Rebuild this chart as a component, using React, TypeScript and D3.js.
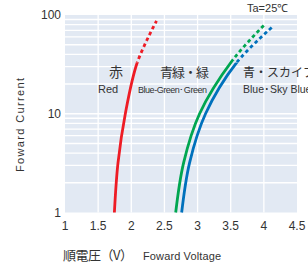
import * as React from "react";
import * as d3 from "d3";

// forward voltage (V) vs forward current (mA)
const redV = [1.745, 1.8, 1.91, 2.09, 2.38];
const redI = [1, 3.2, 10, 33, 87];
const greenV = [2.67, 2.79, 3.03, 3.53, 4.02];
const greenI = [1, 3.2, 10, 35, 81];
const blueV = [2.76, 2.88, 3.12, 3.59, 4.14];
const blueI = [1, 3.2, 10, 33, 77];
// current above which each curve is drawn dashed
const dashFrom = [33, 35, 33];

const xTicks = [1, 1.5, 2, 2.5, 3, 3.5, 4, 4.5];
const yTicks = [1, 10, 100];

const jp = "'Noto Sans CJK JP', 'Noto Sans', sans-serif";
const sans = "'Liberation Sans', Arial, sans-serif";

export default function App() {
  const width = 308;
  const height = 263;
  const x = d3.scaleLinear().domain([1, 4.5]).range([65, 297]);
  const y = d3.scaleLog().domain([1, 100]).range([212.5, 15]);

  const line = d3
    .line<[number, number]>()
    .x((d) => x(d[0]))
    .y((d) => y(d[1]))
    .curve(d3.curveCatmullRom.alpha(0.5));

  const pts = (v: number[], i: number[]) =>
    v.map((d, k) => [d, i[k]] as [number, number]);

  const minor: number[] = [];
  [1, 10].forEach((base) => {
    for (let m = 2; m <= 9; m++) minor.push(base * m);
  });
  minor.push(10);

  const series = [
    { color: "#ee1c25", p: pts(redV, redI) },
    { color: "#00a650", p: pts(greenV, greenI) },
    { color: "#0071bc", p: pts(blueV, blueI) },
  ];

  return (
    <svg
      width={width}
      height={height}
      style={{ position: "absolute", left: 0, top: 0, background: "#fff" }}
    >
      <defs>
        {series.map((s, k) => (
          <React.Fragment key={k}>
            <clipPath id={"solid" + k}>
              <rect x={0} y={y(dashFrom[k])} width={width} height={height} />
            </clipPath>
            <clipPath id={"dash" + k}>
              <rect x={0} y={0} width={width} height={y(dashFrom[k])} />
            </clipPath>
          </React.Fragment>
        ))}
      </defs>
      <rect
        x={x(1)}
        y={y(100)}
        width={x(4.5) - x(1)}
        height={y(1) - y(100)}
        fill="#e2e9f3"
      />
      {minor.map((m) => (
        <line
          key={"h" + m}
          x1={x(1)}
          x2={x(4.5)}
          y1={y(m)}
          y2={y(m)}
          stroke="#fff"
          strokeWidth={1.3}
        />
      ))}
      {xTicks.slice(1, -1).map((t) => (
        <line
          key={"v" + t}
          x1={x(t)}
          x2={x(t)}
          y1={y(1)}
          y2={y(100)}
          stroke="#fff"
          strokeWidth={1.3}
        />
      ))}
      {series.map((s, k) => (
        <g key={k}>
          <path
            d={line(s.p) ?? ""}
            fill="none"
            stroke={s.color}
            strokeWidth={2.8}
            clipPath={`url(#solid${k})`}
          />
          <path
            d={line(s.p) ?? ""}
            fill="none"
            stroke={s.color}
            strokeWidth={2.8}
            strokeDasharray="3.5,3"
            clipPath={`url(#dash${k})`}
          />
        </g>
      ))}
      {xTicks.map((t) => (
        <text
          key={"xt" + t}
          x={x(t)}
          y={230}
          textAnchor="middle"
          fontFamily={sans}
          fontSize={12}
          fill="#333"
        >
          {t}
        </text>
      ))}
      {yTicks.map((t) => (
        <text
          key={"yt" + t}
          x={61}
          y={y(t) + 4}
          textAnchor="end"
          fontFamily={sans}
          fontSize={12}
          fill="#333"
        >
          {t}
        </text>
      ))}
      <text x={247} y={12} fontFamily={sans} fontSize={11} fill="#333">
        Ta=25℃
      </text>
      <text
        transform="translate(24,125) rotate(-90)"
        textAnchor="middle"
        fontFamily={sans}
        fontSize={11}
        textLength={94}
        fill="#333"
      >
        Foward Current
      </text>
      <text x={63} y={260} fontFamily={jp} fontSize={13} fill="#333" textLength={70}>
        順電圧（V）
      </text>
      <text x={143} y={260} fontFamily={sans} fontSize={11} fill="#333" textLength={78}>
        Foward Voltage
      </text>
      <text x={116} y={77} textAnchor="middle" fontFamily={jp} fontSize={14} fill="#333">
        赤
      </text>
      <text x={98} y={93} fontFamily={sans} fontSize={11} fill="#333">
        Red
      </text>
      <text x={160} y={77} fontFamily={jp} fontSize={13} fill="#333" textLength={49}>
        青緑・緑
      </text>
      <text x={138} y={93} fontFamily={sans} fontSize={9} fill="#333" textLength={69}>
        Blue-Green･Green
      </text>
      <text x={243} y={77} fontFamily={jp} fontSize={12} fill="#333">
        青・スカイブルー
      </text>
      <text x={243} y={93} fontFamily={sans} fontSize={10.5} fill="#333">
        Blue･Sky Blue
      </text>
    </svg>
  );
}
